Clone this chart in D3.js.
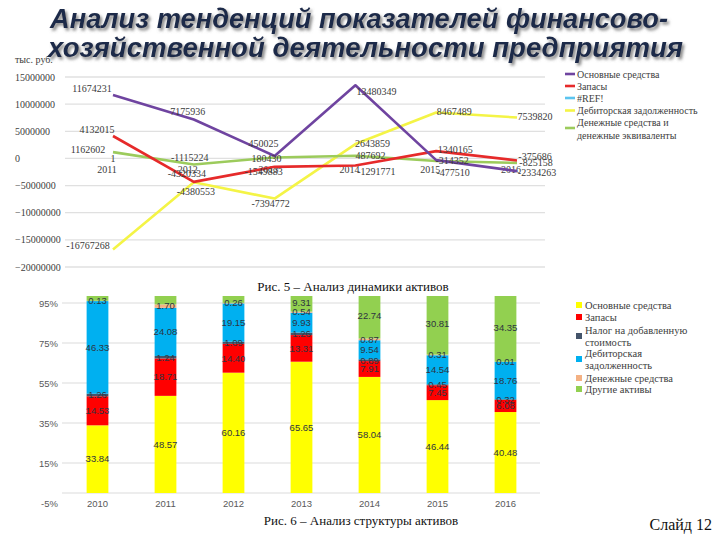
<!DOCTYPE html>
<html><head><meta charset="utf-8">
<script src="https://cdn.jsdelivr.net/npm/d3@7"></script>
<style>
body{margin:0;background:#fff}svg{display:block}
.serif{font-family:"Liberation Serif","Times New Roman",Times,serif}
.sans{font-family:"Liberation Sans",Arial,Helvetica,sans-serif}
</style>
</head><body><svg id="c" width="720" height="540"></svg>
<script>
// ---------- DATA: line chart (Рис. 5) ----------
const lineYears = [2011, 2012, 2013, 2014, 2015, 2016];
const lineSeriesNames = ["Основные средства", "Запасы", "#REF!", "Дебиторская задолженность", "Денежные средства и денежные эквиваленты"];
const fixedAssets = [11674231, 7175936, 450025, 13480349, -314352, -2334263];
const inventories = [4132015, -4320334, -1549883, -1291771, 1340165, -375686];
const refValues = [1, null, null, null, null, null];
const receivables = [-16767268, -4380553, -7394772, 2643859, 8467489, 7539820];
const cashEquivalents = [1162602, -1115224, 180430, 487692, -477510, -825158];
const lineTicks = [15000000, 10000000, 5000000, 0, -5000000, -10000000, -15000000, -20000000];

// ---------- DATA: stacked bar chart (Рис. 6) ----------
const barYears = ["2010", "2011", "2012", "2013", "2014", "2015", "2016"];
const barSeriesNames = ["Основные средства", "Запасы", "Налог на добавленную стоимость", "Дебиторская задолженность", "Денежные средства", "Другие активы"];
const shareFixed = [33.84, 48.57, 60.16, 65.65, 58.04, 46.44, 40.48];
const shareInventories = [14.53, 18.71, 14.40, 13.31, 7.91, 7.45, 6.08];
const shareVAT = [1.26, 1.24, 1.09, 1.26, 0.89, 0.45, 0.32];
const shareReceivables = [46.33, 24.08, 19.15, 9.93, 9.54, 14.54, 18.76];
const shareCash = [0.13, 1.70, 0.26, 0.54, 0.87, 0.31, 0.01];
const shareOther = [3.91, 5.70, 4.94, 9.31, 22.74, 30.81, 34.35];
const barTicks = [95, 75, 55, 35, 15, -5];

// ---------- layout / style ----------
const lineColors = ["#6f44a0", "#e62a2a", "#5bc4ef", "#f4f446", "#9ccb5c"];
const barColors = ["#ffff00", "#ff0000", "#44546a", "#00b0f0", "#f4b183", "#92d050"];
const lineLabelNudges = [
  [[-21,-7],[-6,-8],[-11,-12],[21,6],[16,0],[20,1]],
  [[-16,-6],[-7,-8],[-11,5],[21,6],[19,-2],[18,-4]],
  [[0,0],null,null,null,null,null],
  [[-25,-4],[2,9],[-4,5],[17,-1],[18,-1],[18,-1]],
  [[-25,-3],[-4,-7],[-8,1],[15,0],[17,11],[19,0]]
];

const svg = d3.select("#c");
const defs = svg.append("defs");
const flt = defs.append("filter").attr("id","sh").attr("x","-5%").attr("y","-30%").attr("width","110%").attr("height","170%");
flt.append("feDropShadow").attr("dx",2).attr("dy",2.5).attr("stdDeviation",1.8).attr("flood-color","#6e6e6e").attr("flood-opacity",0.85);

// unit
svg.append("text").attr("class","serif").attr("x",15).attr("y",63).attr("font-size",10).attr("fill","#404040").text("тыс. руб.");

// ---------- line chart ----------
const xL = d3.scalePoint().domain(lineYears).range([113, 517]);
const yL = d3.scaleLinear().domain([-20000000, 15000000]).range([267, 77]);
const gL = svg.append("g");
gL.selectAll("line.grid").data(lineTicks).join("line")
  .attr("x1",65).attr("x2",545).attr("y1",d=>yL(d)).attr("y2",d=>yL(d))
  .attr("stroke","#e0e0e0").attr("stroke-width",1.3);
gL.selectAll("text.tick").data(lineTicks).join("text").attr("class","serif")
  .attr("x",15).attr("y",d=>yL(d)+3.5).attr("font-size",10)
  .attr("fill","#404040").text(d=>d3.format("d")(d));
gL.selectAll("text.year").data(lineYears).join("text").attr("class","serif")
  .attr("x",d=>xL(d)-6).attr("y",173).attr("text-anchor","middle")
  .attr("font-size",10).attr("fill","#404040").text(d=>d);

const lineSeries = [fixedAssets, inventories, refValues, receivables, cashEquivalents];
const lineGen = d3.line().defined(d=>d.v!=null).x(d=>xL(d.year)).y(d=>yL(d.v));
const drawOrder = [3,4,1,0,2];
drawOrder.forEach(i=>{
  const pts = lineSeries[i].map((v,j)=>({year:lineYears[j], v}));
  gL.append("path").datum(pts).attr("d",lineGen).attr("fill","none")
    .attr("stroke",lineColors[i]).attr("stroke-width",2.6).attr("stroke-linejoin","round");
});
lineSeries.forEach((vals,i)=>{
  vals.forEach((v,j)=>{
    if (v==null) return;
    const n = lineLabelNudges[i][j] || [0,0];
    gL.append("text").attr("class","serif").attr("x",xL(lineYears[j])+n[0]).attr("y",yL(v)+n[1]+3.5)
      .attr("text-anchor","middle").attr("font-size",10)
      .attr("fill","#3a3a3a").text(v);
  });
});
// legend (line)
const legL = svg.append("g");
const legLRows = [[0,74],[1,86],[2,98],[3,110.5],[4,128]];
legLRows.forEach(([i,y])=>{
  legL.append("line").attr("x1",565).attr("x2",575).attr("y1",y).attr("y2",y)
    .attr("stroke",lineColors[i]).attr("stroke-width",2.6);
  const t = legL.append("text").attr("class","serif").attr("font-size",10).attr("fill","#404040");
  if (i===4) {
    t.append("tspan").attr("x",577).attr("y",y-6+3.5).text("Денежные средства и");
    t.append("tspan").attr("x",577).attr("y",y+7+3.5).text("денежные эквиваленты");
  } else {
    t.attr("x",577).attr("y",y+3.5).text(lineSeriesNames[i]);
  }
});

svg.append("text").attr("class","serif").attr("x",353).attr("y",291).attr("text-anchor","middle")
  .attr("font-size",13).attr("fill","#111").text("Рис. 5 – Анализ динамики активов");

// ---------- stacked bar chart ----------
const xB = d3.scaleBand().domain(barYears).range([63.5, 539.5]).paddingInner(0.68).paddingOuter(0.34);
const yB = d3.scaleLinear().domain([-5, 95]).range([503, 303]);
const gB = svg.append("g");
gB.selectAll("line.grid").data(barTicks.filter(t=>t>0).concat([0])).join("line")
  .attr("x1",62).attr("x2",540).attr("y1",d=>yB(d)).attr("y2",d=>yB(d))
  .attr("stroke","#dcdcdc").attr("stroke-width",1.2);
gB.selectAll("text.tick").data(barTicks).join("text").attr("class","sans")
  .attr("x",58).attr("y",d=>yB(d)+3.5).attr("text-anchor","end")
  .attr("font-size",9.5).attr("fill","#595959").text(d=>d+"%");
gB.selectAll("text.year").data(barYears).join("text").attr("class","sans")
  .attr("x",d=>xB(d)+xB.bandwidth()/2).attr("y",507).attr("text-anchor","middle")
  .attr("font-size",9.5).attr("fill","#595959").text(d=>d);

const barRows = barYears.map((y,j)=>({year:y, s0:shareFixed[j], s1:shareInventories[j], s2:shareVAT[j], s3:shareReceivables[j], s4:shareCash[j], s5:shareOther[j]}));
const keys = ["s0","s1","s2","s3","s4","s5"];
const stacked = d3.stack().keys(keys)(barRows);
defs.append("clipPath").attr("id","clipB").append("rect").attr("x",0).attr("y",296).attr("width",720).attr("height",240);
const gBars = gB.append("g").attr("clip-path","url(#clipB)");
stacked.forEach((layer,k)=>{
  gBars.selectAll(null).data(layer).join("rect")
    .attr("x",d=>xB(d.data.year)).attr("width",xB.bandwidth())
    .attr("y",d=>yB(d[1])).attr("height",d=>yB(d[0])-yB(d[1]))
    .attr("fill",barColors[k]);
});
stacked.forEach((layer,k)=>{
  gBars.selectAll(null).data(layer.filter(d=>(d[0]+d[1])/2<96.5)).join("text").attr("class","sans")
    .attr("x",d=>xB(d.data.year)+xB.bandwidth()/2).attr("y",d=>yB((d[0]+d[1])/2)+3.3)
    .attr("text-anchor","middle").attr("font-size",9.5)
    .attr("fill","#2e3440").text(d=>(d[1]-d[0]).toFixed(2));
});
// legend (bar)
const legB = svg.append("g");
const legBRows = [[0,305,null],[1,317,null],[2,336,["Налог на добавленную","стоимость"]],[3,359,["Дебиторская","задолженность"]],[4,378,null],[5,389,null]];
legBRows.forEach(([i,y,lines])=>{
  legB.append("rect").attr("x",576).attr("y",y-3).attr("width",6).attr("height",6).attr("fill",barColors[i]);
  const t = legB.append("text").attr("class","serif").attr("font-size",10.5).attr("fill","#404040");
  if (lines) {
    t.append("tspan").attr("x",585).attr("y",y-6+3.5).text(lines[0]);
    t.append("tspan").attr("x",585).attr("y",y+6+3.5).text(lines[1]);
  } else {
    t.attr("x",585).attr("y",y+3.5).text(barSeriesNames[i]);
  }
});

svg.append("text").attr("class","serif").attr("x",361).attr("y",525).attr("text-anchor","middle")
  .attr("font-size",13).attr("fill","#111").text("Рис. 6 – Анализ структуры активов");
svg.append("text").attr("class","serif").attr("x",712).attr("y",530).attr("text-anchor","end")
  .attr("font-size",16).attr("fill","#111").text("Слайд 12");

// ---------- title ----------
const title = svg.append("g").attr("filter","url(#sh)");
title.append("text").attr("class","sans").attr("x",359).attr("y",28).attr("text-anchor","middle")
  .attr("font-weight","bold").attr("font-style","italic").attr("font-size",27)
  .attr("fill","#1d2b4a").attr("textLength",618).attr("lengthAdjust","spacingAndGlyphs")
  .text("Анализ тенденций показателей финансово-");
title.append("text").attr("class","sans").attr("x",365.5).attr("y",57).attr("text-anchor","middle")
  .attr("font-weight","bold").attr("font-style","italic").attr("font-size",27)
  .attr("fill","#1d2b4a").attr("textLength",635).attr("lengthAdjust","spacingAndGlyphs")
  .text("хозяйственной деятельности предприятия");
</script></body></html>
